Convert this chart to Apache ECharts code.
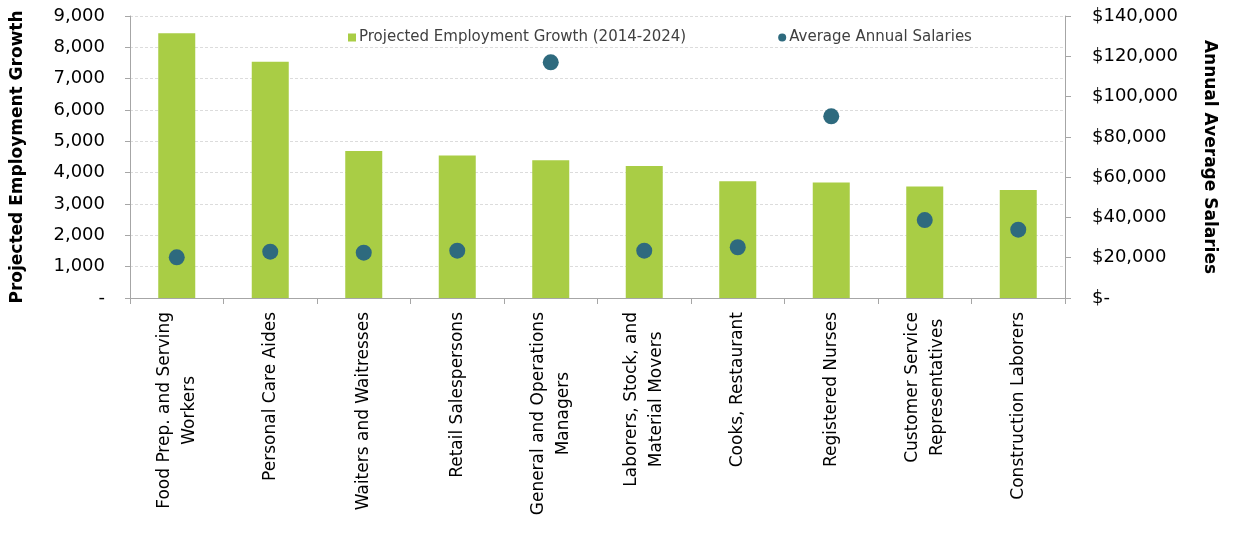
<!DOCTYPE html>
<html>
<head>
<meta charset="utf-8">
<script src="https://cdn.jsdelivr.net/npm/echarts@6/dist/echarts.min.js"></script>
<style>
  html, body { margin: 0; padding: 0; background: #fff; }
  #chart { width: 1233px; height: 538px; }
</style>
</head>
<body>
<div id="chart"></div>
<script>
// Occupations with the largest projected employment growth
const categories = [
  'Food Prep. and Serving\nWorkers',
  'Personal Care Aides',
  'Waiters and Waitresses',
  'Retail Salespersons',
  'General and Operations\nManagers',
  'Laborers, Stock, and\nMaterial Movers',
  'Cooks, Restaurant',
  'Registered Nurses',
  'Customer Service\nRepresentatives',
  'Construction Laborers'
];
// Projected Employment Growth (2014-2024)
const growth = [8450, 7540, 4690, 4550, 4400, 4210, 3730, 3690, 3555, 3450];
// Average Annual Salaries (USD)
const salaries = [20200, 23000, 22500, 23500, 117000, 23500, 25200, 90200, 38700, 33900];

const growthTicks = { min: 0, max: 9000, interval: 1000 };
const salaryTicks = { min: 0, max: 140000, interval: 20000 };

const FONT = 'DejaVu Sans';
const axisGrey = '#a6a6a6';

const chart = echarts.init(document.getElementById('chart'), null, { renderer: 'canvas' });

chart.setOption({
  backgroundColor: '#ffffff',
  animation: false,
  textStyle: { fontFamily: FONT },
  grid: { left: 130, right: 168, top: 16, bottom: 240, containLabel: false },
  legend: {
    left: 343,
    top: 25,
    itemGap: 92,
    itemWidth: 8,
    itemHeight: 8,
    textStyle: { fontFamily: FONT, fontSize: 15, color: '#404040', padding: [0, 0, 0, -2] },
    data: [
      { name: 'Projected Employment Growth (2014-2024)', icon: 'rect' },
      { name: 'Average Annual Salaries', icon: 'circle' }
    ]
  },
  xAxis: {
    type: 'category',
    data: categories,
    axisLine: { lineStyle: { color: axisGrey, width: 1 } },
    axisTick: { show: true, alignWithLabel: false, length: 6, lineStyle: { color: axisGrey } },
    axisLabel: {
      interval: 0,
      rotate: 90,
      margin: 14,
      color: '#000',
      formatter: function (v) {
        return v.split('\n').map(function (s) { return '{c|' + s + '}'; }).join('\n');
      },
      rich: {
        c: { fontFamily: FONT, fontSize: 17, color: '#000', align: 'center', lineHeight: 25 }
      }
    }
  },
  yAxis: [
    {
      type: 'value',
      min: growthTicks.min,
      max: growthTicks.max,
      interval: growthTicks.interval,
      name: 'Projected Employment Growth',
      nameLocation: 'middle',
      nameGap: 104,
      nameTextStyle: { fontFamily: FONT, fontSize: 17, fontWeight: 'bold', color: '#000' },
      axisLine: { show: true, lineStyle: { color: axisGrey } },
      axisTick: { show: true, length: 5, lineStyle: { color: axisGrey } },
      axisLabel: {
        margin: 25,
        fontFamily: FONT,
        fontSize: 18,
        color: '#000',
        formatter: function (v) { return v === 0 ? '-' : v.toLocaleString('en-US'); }
      },
      splitLine: { show: true, lineStyle: { color: '#dcdcdc', type: [3, 2], width: 1 } }
    },
    {
      type: 'value',
      min: salaryTicks.min,
      max: salaryTicks.max,
      interval: salaryTicks.interval,
      name: 'Annual Average Salaries',
      nameLocation: 'middle',
      nameRotate: -90,
      nameGap: 136,
      nameTextStyle: { fontFamily: FONT, fontSize: 17, fontWeight: 'bold', color: '#000' },
      axisLine: { show: true, lineStyle: { color: axisGrey } },
      axisTick: { show: true, length: 6, lineStyle: { color: axisGrey } },
      axisLabel: {
        margin: 27,
        fontFamily: FONT,
        fontSize: 18,
        color: '#000',
        formatter: function (v) { return v === 0 ? '$-' : '$' + v.toLocaleString('en-US'); }
      },
      splitLine: { show: false }
    }
  ],
  series: [
    {
      name: 'Projected Employment Growth (2014-2024)',
      type: 'bar',
      yAxisIndex: 0,
      data: growth,
      barWidth: 37,
      itemStyle: { color: '#a9cd45' }
    },
    {
      name: 'Average Annual Salaries',
      type: 'scatter',
      yAxisIndex: 1,
      data: salaries,
      symbol: 'circle',
      symbolSize: 16,
      itemStyle: { color: '#2e6a7e', opacity: 1 },
      z: 5
    }
  ]
});
</script>
</body>
</html>
